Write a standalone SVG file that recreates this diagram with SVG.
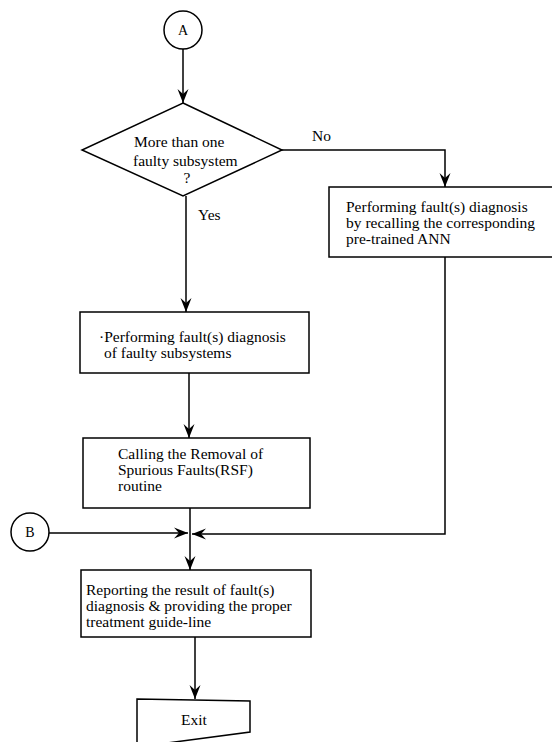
<svg xmlns="http://www.w3.org/2000/svg" width="552" height="742" viewBox="0 0 552 742">
<defs>
<marker id="arr" viewBox="-14 -6 15 12" refX="0" refY="0" markerWidth="15" markerHeight="12" markerUnits="userSpaceOnUse" orient="auto">
<path d="M0,0 L-14,-5.5 L-9,0 L-14,5.5 Z" fill="#000"/>
</marker>
<style>
.s{fill:#fff;stroke:#000;stroke-width:1.5}
.c{fill:none;stroke:#000;stroke-width:1.5}
text{font-family:"Liberation Serif","Times New Roman",serif;font-size:15.5px;fill:#000}
.m{text-anchor:middle}
</style>
</defs>
<rect width="552" height="742" fill="#fff"/>
<g id="connectors">
<path class="c" d="M183,49 V103" marker-end="url(#arr)"/>
<path class="c" d="M282,150 H445 V187" marker-end="url(#arr)"/>
<path class="c" d="M186,196 V312" marker-end="url(#arr)"/>
<path class="c" d="M189,373 V438" marker-end="url(#arr)"/>
<path class="c" d="M190,508 V570" marker-end="url(#arr)"/>
<path class="c" d="M49,533 H188" marker-end="url(#arr)"/>
<path class="c" d="M445,257 V534 H192" marker-end="url(#arr)"/>
<path class="c" d="M195,637 V699" marker-end="url(#arr)"/>
<text x="312" y="141">No</text>
<text x="198" y="220">Yes</text>
</g>
<g id="nodeA">
<circle class="s" cx="183" cy="30" r="19"/>
<text class="m" x="183" y="35" style="font-size:14px">A</text>
</g>
<g id="decision">
<polygon class="s" points="183,103 282,150 183,196 82,150"/>
<text x="134" y="147">More than one</text>
<text x="133" y="166">faulty subsystem</text>
<text class="m" x="187" y="183">?</text>
</g>
<g id="boxANN">
<rect class="s" x="329" y="187" width="240" height="70"/>
<text x="346" y="212">Performing fault(s) diagnosis</text>
<text x="346" y="228">by recalling the corresponding</text>
<text x="346" y="244">pre-trained ANN</text>
</g>
<g id="boxFaulty">
<rect class="s" x="80" y="312" width="229" height="61"/>
<text x="99" y="342">·Performing fault(s) diagnosis</text>
<text x="104" y="358">of faulty subsystems</text>
</g>
<g id="boxRSF">
<rect class="s" x="83" y="438" width="227" height="70"/>
<text x="118" y="459">Calling the Removal of</text>
<text x="118" y="475">Spurious Faults(RSF)</text>
<text x="118" y="491">routine</text>
</g>
<g id="nodeB">
<circle class="s" cx="30" cy="532" r="19"/>
<text class="m" x="30" y="537" style="font-size:14px">B</text>
</g>
<g id="boxReport">
<rect class="s" x="81" y="570" width="230" height="67"/>
<text x="86" y="595">Reporting the result of fault(s)</text>
<text x="86" y="611">diagnosis &amp; providing the proper</text>
<text x="86" y="627">treatment guide-line</text>
</g>
<g id="exit">
<polygon class="s" points="137,699 250,701 250,732 137,747"/>
<text class="m" x="194" y="725">Exit</text>
</g>
</svg>
